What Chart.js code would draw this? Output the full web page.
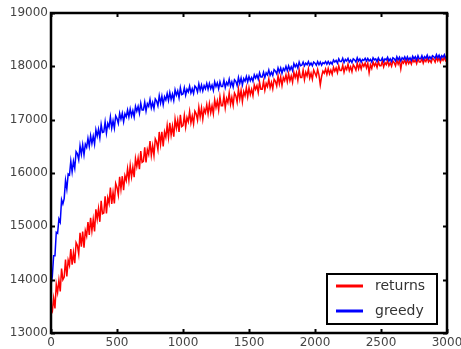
<!DOCTYPE html>
<html><head><meta charset="utf-8">
<script src="https://cdn.jsdelivr.net/npm/chart.js@4"></script>
<style>html,body{margin:0;padding:0;background:#fff}</style>
</head><body>
<canvas id="c" width="461" height="349"></canvas>
<script>
const STEP = 10;
const xTicks = [0, 500, 1000, 1500, 2000, 2500, 3000];
const yTicks = [13000, 14000, 15000, 16000, 17000, 18000, 19000];
const seriesNames = ['returns', 'greedy'];
const seriesColors = ['#ff0000', '#0000ff'];

const returns = [
13350,13400,13650,13460,13910,13760,13990,13780,14210,14000,
14050,14375,14060,14365,14270,14575,14280,14505,14310,14695,
14640,14480,14880,14620,14900,14600,14920,14820,15080,14840,
15160,14915,15130,14905,15320,15135,15330,15085,15480,15235,
15250,15565,15240,15535,15430,15725,15420,15635,15430,15805,
15730,15590,15930,15700,15940,15680,15950,15860,16080,15870,
16140,15930,16110,15920,16270,16120,16280,16070,16410,16200,
16220,16480,16200,16440,16350,16600,16330,16510,16330,16640,
16580,16440,16770,16540,16770,16500,16770,16670,16890,16670,
16940,16710,16880,16680,17010,16840,16990,16770,17090,16870,
16890,17080,16860,17040,16960,17150,16940,17070,16920,17160,
17110,16990,17230,17050,17220,17010,17200,17130,17280,17110,
17300,17130,17260,17110,17370,17230,17350,17180,17430,17260,
17260,17450,17220,17400,17320,17500,17290,17420,17270,17500,
17450,17330,17570,17390,17550,17340,17530,17450,17600,17430,
17600,17470,17570,17450,17650,17570,17640,17510,17700,17570,
17570,17720,17550,17680,17620,17760,17600,17700,17580,17760,
17720,17630,17820,17670,17800,17640,17790,17730,17840,17710,
17860,17730,17820,17700,17890,17790,17880,17740,17930,17790,
17790,17930,17750,17890,17820,17950,17780,17870,17760,17930,
17870,17810,17940,17840,17650,17810,17910,17870,17950,17850,
17960,17860,17930,17850,17980,17910,17970,17880,18010,17920,
17920,18020,17890,17990,17940,18040,17920,17990,17900,18030,
17990,17930,18060,17950,18040,17950,18050,18000,18060,17970,
18060,17880,18030,17960,18080,18010,18060,17980,18090,18010,
18010,18096,17990,18070,18030,18110,18010,18066,18000,18100,
18070,18010,18120,18040,18110,17950,18100,18060,18120,18040,
18120,18050,18100,18040,18130,18080,18120,18050,18150,18080,
18080,18150,18060,18130,18090,18160,18080,18120,18070,18150,
18130,18080,18170,18100,18160,18080,18150,18110,18170,18100,
18100];

const greedy = [
13900,14060,14450,14450,14890,14870,15140,15080,15500,15420,
15520,15860,15700,15980,15960,16220,16020,16220,16090,16400,
16360,16250,16510,16350,16530,16340,16540,16480,16650,16500,
16700,16550,16690,16540,16810,16690,16820,16660,16910,16760,
16770,16960,16750,16930,16860,17050,16840,16980,16840,17070,
17020,16930,17120,17010,17120,16960,17110,17050,17180,17050,
17200,17070,17170,17050,17250,17160,17250,17120,17310,17180,
17180,17330,17160,17300,17250,17380,17220,17320,17210,17390,
17350,17260,17450,17310,17440,17280,17430,17370,17490,17360,
17510,17380,17480,17360,17560,17460,17540,17410,17600,17470,
17480,17600,17460,17570,17520,17630,17500,17580,17490,17630,
17600,17520,17670,17550,17650,17540,17640,17580,17680,17570,
17680,17580,17650,17550,17710,17620,17690,17580,17710,17620,
17620,17740,17600,17700,17650,17760,17630,17710,17610,17750,
17720,17640,17790,17680,17780,17650,17770,17720,17810,17710,
17810,17730,17790,17720,17840,17780,17840,17760,17880,17800,
17800,17890,17790,17880,17840,17930,17830,17890,17830,17940,
17910,17860,17970,17890,17970,17870,17960,17920,18000,17920,
18010,17930,17990,17920,18050,17990,18040,17970,18080,18010,
18020,18080,18010,18060,18030,18090,18020,18060,18010,18080,
18060,18020,18090,18030,18080,18020,18070,18050,18090,18040,
18090,18040,18080,18040,18120,18080,18110,18060,18140,18090,
18090,18150,18070,18130,18100,18150,18080,18120,18070,18140,
18120,18080,18160,18100,18140,18080,18130,18110,18150,18100,
18150,18100,18130,18080,18160,18120,18140,18090,18160,18110,
18110,18160,18090,18140,18120,18170,18100,18140,18090,18160,
18140,18100,18180,18120,18170,18100,18160,18130,18180,18120,
18180,18120,18160,18110,18190,18140,18180,18120,18200,18140,
18140,18200,18130,18180,18150,18210,18140,18180,18140,18200,
18180,18150,18220,18160,18210,18140,18200,18170,18220,18160,
18190];

const toPts = arr => arr.map((v, i) => ({x: i * STEP, y: v}));

const framePlugin = {
  id: 'frame',
  afterDraw(chart) {
    const ctx = chart.ctx, ca = chart.chartArea;
    const sx = chart.scales.x, sy = chart.scales.y;
    ctx.save();
    ctx.strokeStyle = '#000';
    ctx.lineWidth = 2;
    const tl = 4;
    ctx.beginPath();
    xTicks.forEach(v => {
      const p = Math.round(sx.getPixelForValue(v)) + 0.5;
      ctx.moveTo(p, ca.bottom); ctx.lineTo(p, ca.bottom - tl);
      ctx.moveTo(p, ca.top); ctx.lineTo(p, ca.top + tl);
    });
    yTicks.forEach(v => {
      const p = Math.round(sy.getPixelForValue(v)) + 0.5;
      ctx.moveTo(ca.left, p); ctx.lineTo(ca.left + tl, p);
      ctx.moveTo(ca.right, p); ctx.lineTo(ca.right - tl, p);
    });
    ctx.stroke();
    ctx.lineWidth = 2.5;
    ctx.strokeRect(ca.left, ca.top, ca.right - ca.left, ca.bottom - ca.top);

    // legend
    const bw = 110, bh = 50;
    const bx = ca.right - 10 - bw, by = ca.bottom - 9 - bh;
    ctx.fillStyle = '#fff';
    ctx.fillRect(bx, by, bw, bh);
    ctx.lineWidth = 2;
    ctx.strokeRect(bx, by, bw, bh);
    ctx.font = '14px "DejaVu Sans"';
    ctx.textBaseline = 'middle';
    chart.data.datasets.forEach((ds, i) => {
      const yy = by + 12 + i * 25;
      ctx.strokeStyle = ds.borderColor;
      ctx.lineWidth = 3;
      ctx.beginPath();
      ctx.moveTo(bx + 9, yy); ctx.lineTo(bx + 36, yy);
      ctx.stroke();
      ctx.fillStyle = '#333';
      ctx.fillText(ds.label, bx + 48, yy);
    });
    ctx.restore();
  }
};

new Chart(document.getElementById('c'), {
  type: 'line',
  data: {
    datasets: [
      {label: seriesNames[0], data: toPts(returns), borderColor: seriesColors[0], borderWidth: 1.5, pointRadius: 0, tension: 0, order: 1},
      {label: seriesNames[1], data: toPts(greedy), borderColor: seriesColors[1], borderWidth: 1.5, pointRadius: 0, tension: 0, order: 0}
    ]
  },
  options: {
    responsive: false,
    animation: false,
    layout: {padding: {top: 13, right: 14, left: 0, bottom: 0}},
    plugins: {legend: {display: false}, tooltip: {enabled: false}},
    scales: {
      x: {
        type: 'linear', min: 0, max: 3000,
        afterBuildTicks: s => { s.ticks = xTicks.map(v => ({value: v})); },
        ticks: {font: {family: 'DejaVu Sans', size: 12}, color: '#444', padding: 3, maxRotation: 0, autoSkip: false, callback: v => String(v)},
        grid: {display: false, drawTicks: false},
        border: {display: false},
        afterFit: s => { s.height = 16; s.paddingLeft = 0; s.paddingRight = 0; }
      },
      y: {
        type: 'linear', min: 13000, max: 19000,
        afterBuildTicks: s => { s.ticks = yTicks.map(v => ({value: v})); },
        ticks: {font: {family: 'DejaVu Sans', size: 12}, color: '#444', padding: 3, autoSkip: false, callback: v => String(v)},
        grid: {display: false, drawTicks: false},
        border: {display: false},
        afterFit: s => { s.width = 51; s.paddingTop = 0; s.paddingBottom = 0; }
      }
    }
  },
  plugins: [framePlugin]
});
</script>
</body></html>
